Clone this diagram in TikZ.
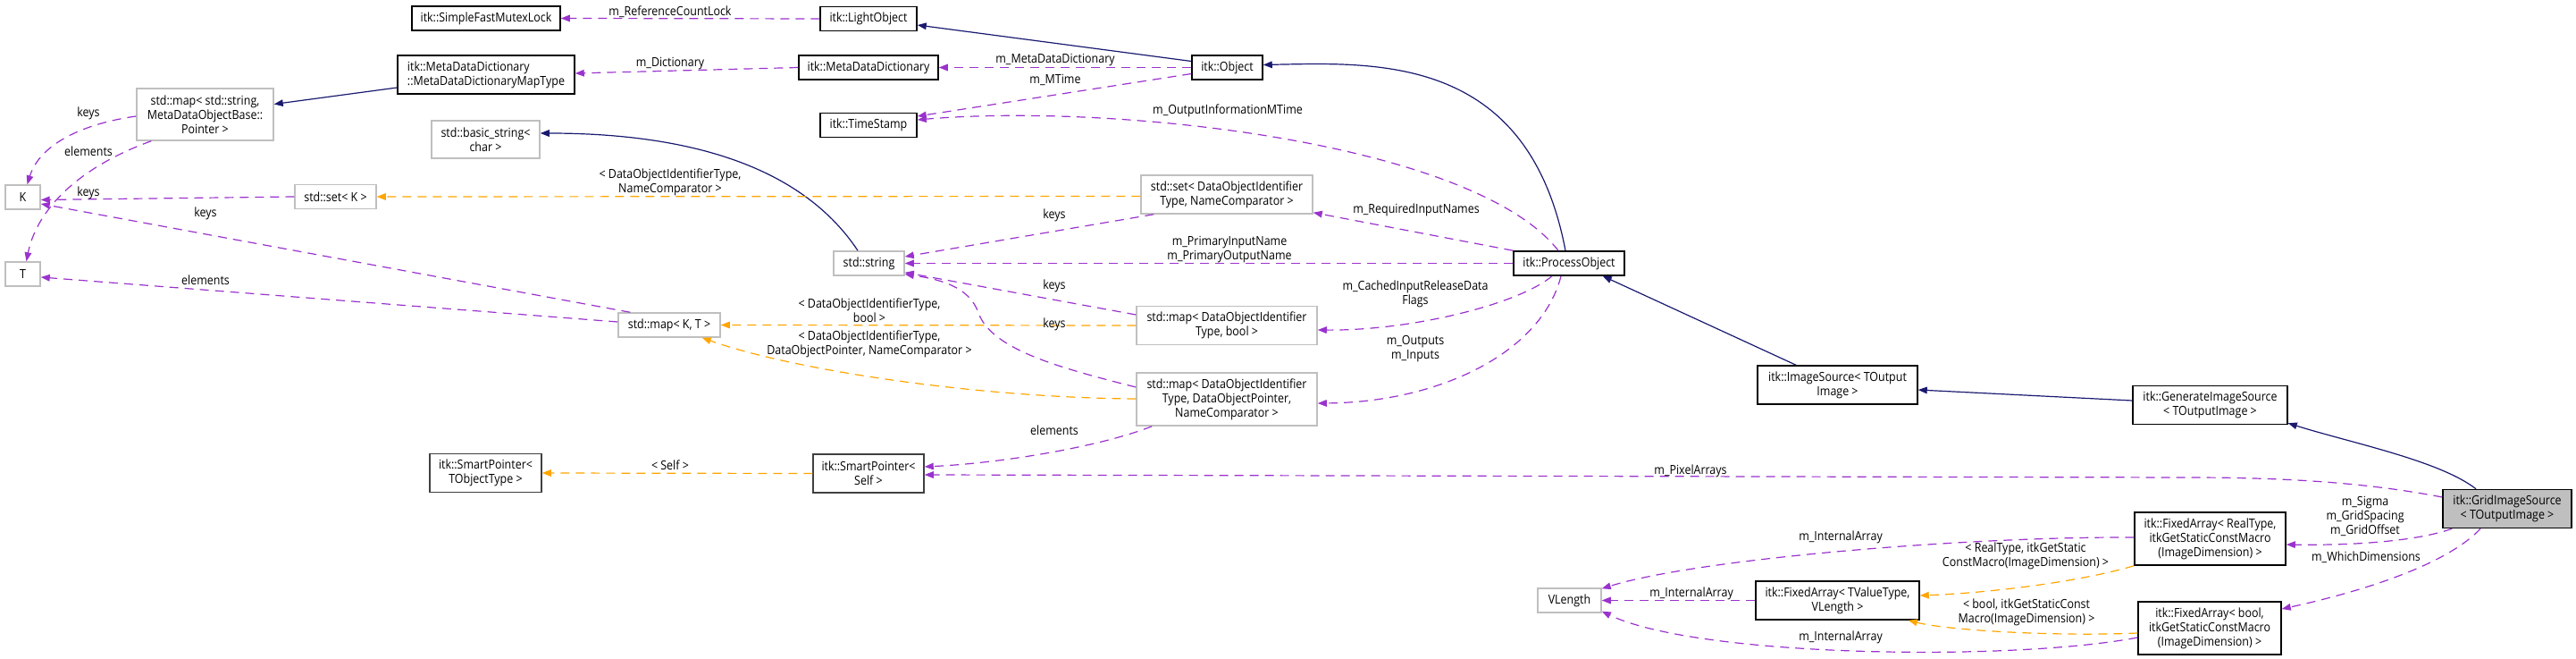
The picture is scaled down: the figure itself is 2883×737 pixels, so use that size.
\documentclass[tikz,border=0pt]{standalone}
\usepackage{fontspec}
\setmainfont[FakeStretch=0.89]{Open Sans}
\usetikzlibrary{arrows.meta,calc}
\definecolor{navy}{HTML}{191970}
\definecolor{usecol}{HTML}{9A32CD}
\definecolor{tplcol}{HTML}{FFA500}
\definecolor{extgray}{HTML}{BFBFBF}
\definecolor{darkbd}{HTML}{404040}
\definecolor{gridfill}{HTML}{BFBFBF}
\begin{document}
\begin{tikzpicture}[x=0.5pt,y=-0.5pt,
  every node/.style={font=\fontsize{7pt}{8pt}\selectfont},
  box/.style={draw=black, line width=0.75pt, fill=white, inner sep=0pt, align=center},
  ext/.style={box, draw=extgray},
  spb/.style={box, draw=darkbd},
  lbl/.style={inner sep=0pt, align=center},
  tip/.style={-{Triangle[length=5pt,width=3.8pt]}},
  inh/.style={tip, color=navy, line width=0.6pt},
  use/.style={tip, color=usecol, line width=0.6pt, dash pattern=on 5pt off 3.5pt},
  tpl/.style={tip, color=tplcol, line width=0.6pt, dash pattern=on 5pt off 3.5pt},
]
\useasboundingbox (0,0) rectangle (2883,737);
% nodes
\node[box, minimum width=83pt, minimum height=13.5pt] (mutex) at (544,20.5) {itk::SimpleFastMutexLock};
\node[box, minimum width=54pt, minimum height=13.5pt] (light) at (972,21) {itk::LightObject};
\node[box, minimum width=99pt, minimum height=21.5pt, align=left] (mapT) at (544,83.5) {itk::MetaDataDictionary\\::MetaDataDictionaryMapType};
\node[box, minimum width=78pt, minimum height=13.5pt] (mdd) at (972,75.5) {itk::MetaDataDictionary};
\node[box, minimum width=39.5pt, minimum height=13.5pt] (object) at (1373.5,75.5) {itk::Object};
\node[box, minimum width=54pt, minimum height=13.5pt] (ts) at (972,140) {itk::TimeStamp};
\node[ext, minimum width=76.5pt, minimum height=29pt] (mapstr) at (229.5,128) {std::map< std::string,\\MetaDataObjectBase::\\Pointer >};
\node[ext, minimum width=60.5pt, minimum height=21pt] (bstr) at (543.5,156) {std::basic\_string<\\char >};
\node[ext, minimum width=19.5pt, minimum height=13.5pt] (K) at (25.5,220.5) {K};
\node[ext, minimum width=45.5pt, minimum height=13.5pt] (setK) at (375.5,220) {std::set< K >};
\node[ext, minimum width=19.5pt, minimum height=13.5pt] (T) at (25.5,306.5) {T};
\node[ext, minimum width=96pt, minimum height=21.5pt] (setD) at (1373,217.5) {std::set< DataObjectIdentifier\\Type, NameComparator >};
\node[ext, minimum width=39.5pt, minimum height=13.5pt] (str) at (972.5,294.5) {std::string};
\node[box, minimum width=62pt, minimum height=13.5pt] (proc) at (1756,294.5) {itk::ProcessObject};
\node[ext, minimum width=57pt, minimum height=13.5pt] (mapKT) at (749,363.5) {std::map< K, T >};
\node[ext, minimum width=101pt, minimum height=21.5pt] (mapB) at (1373,364) {std::map< DataObjectIdentifier\\Type, bool >};
\node[ext, minimum width=101pt, minimum height=29.5pt] (mapP) at (1373,446.5) {std::map< DataObjectIdentifier\\Type, DataObjectPointer,\\NameComparator >};
\node[spb, minimum width=62pt, minimum height=21.5pt] (spSelf) at (972,529.5) {itk::SmartPointer<\\Self >};
\node[spb, minimum width=62.5pt, minimum height=21.5pt] (spT) at (543.5,529) {itk::SmartPointer<\\TObjectType >};
\node[box, minimum width=89.5pt, minimum height=21.5pt] (imgsrc) at (2056.5,430.5) {itk::ImageSource< TOutput\\Image >};
\node[box, minimum width=86.5pt, minimum height=21.5pt] (gen) at (2473.5,453) {itk::GenerateImageSource\\< TOutputImage >};
\node[box, fill=gridfill, minimum width=72pt, minimum height=21.5pt] (grid) at (2806,569) {itk::GridImageSource\\< TOutputImage >};
\node[box, minimum width=84.5pt, minimum height=29.5pt] (faReal) at (2473.5,602.5) {itk::FixedArray< RealType,\\itkGetStaticConstMacro\\(ImageDimension) >};
\node[box, minimum width=80pt, minimum height=29.5pt] (faBool) at (2473,702.5) {itk::FixedArray< bool,\\itkGetStaticConstMacro\\(ImageDimension) >};
\node[box, minimum width=91.5pt, minimum height=21.5pt] (faT) at (2056.5,671.5) {itk::FixedArray< TValueType,\\VLength >};
\node[ext, minimum width=35.5pt, minimum height=13.5pt] (VLength) at (1756.5,671.5) {VLength};
% inheritance
\draw[inh] ($(object.west)+(0,-7)$) -- ($(light.east)+(0,7)$);
\draw[inh] ($(mapT.west)+(0,14.5)$) -- ($(mapstr.east)+(0,-11.5)$);
\draw[inh] ($(proc.north)+(-4,0)$) .. controls (1710,60) and (1540,70) .. ($(object.east)+(0,-3)$);
\draw[inh] ($(str.north)+(-12.5,0)$) .. controls (900,190) and (780,149) .. ($(bstr.east)+(0,-7)$);
\draw[inh] ($(imgsrc.north)+(-46.5,0)$) -- ($(proc.south east)+(-25,0)$);
\draw[inh] ($(gen.west)+(0,-5)$) -- ($(imgsrc.east)+(0,5.5)$);
\draw[inh] ($(grid.north)+(-35,0)$) .. controls (2730,515) and (2630,495) .. ($(gen.south east)+(0,-2)$);
% usage
\draw[use] (light.west) -- (mutex.east);
\draw[use] (mdd.west) -- ($(mapT.east)+(0,-1.5)$);
\draw[use] (object.west) -- (mdd.east);
\draw[use] ($(object.west)+(0,7)$) -- ($(ts.east)+(0,-10)$);
\draw[use] ($(proc.north)+(-12,0)$) .. controls (1650,160) and (1250,115) .. ($(ts.east)+(0,-6)$);
\draw[use] (proc.north west) -- ($(setD.south east)+(0,-2)$);
\draw[use] (proc.west) -- (str.east);
\draw[use] ($(proc.south)+(-19,0)$) .. controls (1700,340) and (1580,370) .. ($(mapB.east)+(0,5)$);
\draw[use] ($(proc.south)+(-9,0)$) .. controls (1725,395) and (1610,450) .. ($(mapP.east)+(0,4.5)$);
\draw[use] ($(setD.south west)+(15,0)$) -- ($(str.east)+(0,-7.5)$);
\draw[use] ($(mapB.west)+(0,-12)$) -- ($(str.south east)+(0,-4)$);
\draw[use] ($(mapP.west)+(0,-13.5)$) .. controls (1180,410) and (1110,390) .. (1095,350) .. controls (1085,320) and (1050,312) .. ($(str.south east)+(0,-2)$);
\draw[use] ($(mapP.south west)+(18,0)$) .. controls (1230,500) and (1120,518) .. ($(spSelf.east)+(0,-7.5)$);
\draw[use] ($(grid.west)+(0,-13)$) .. controls (2650,540) and (2560,534) .. (2450,534) -- ($(spSelf.east)+(0,1.5)$);
\draw[use] ($(grid.south west)+(11,0)$) .. controls (2700,607) and (2620,610) .. ($(faReal.east)+(0,6.5)$);
\draw[use] ($(grid.south)+(-30,0)$) .. controls (2740,630) and (2650,660) .. ($(faBool.east)+(0,-21.5)$);
\draw[use] ($(faReal.west)+(0,-1.5)$) .. controls (2200,600) and (1900,625) .. ($(VLength.north east)+(0,1)$);
\draw[use] (faT.west) -- (VLength.east);
\draw[use] ($(faBool.west)+(0,10.5)$) .. controls (2250,740) and (1900,735) .. ($(VLength.south east)+(0,-2)$);
\draw[use] (setK.west) -- ($(K.east)+(0,3)$);
\draw[use] ($(mapstr.west)+(0,2)$) .. controls (95,138) and (45,160) .. ($(K.north)+(5,0)$);
\draw[use] ($(mapstr.south west)+(17,0)$) .. controls (80,190) and (40,240) .. ($(T.north)+(4,0)$);
\draw[use] ($(mapKT.north west)+(14,0)$) -- ($(K.east)+(0,7.5)$);
\draw[use] ($(mapKT.west)+(0,-3.5)$) -- ($(T.east)+(0,3.5)$);
% template instances
\draw[tpl] ($(setD.west)+(0,2)$) -- (setK.east);
\draw[tpl] (mapB.west) -- (mapKT.east);
\draw[tpl] ($(mapP.west)+(0,-0.5)$) .. controls (1100,445) and (890,415) .. ($(mapKT.south east)+(-21,0)$);
\draw[tpl] (spSelf.west) -- (spT.east);
\draw[tpl] (faReal.south west) .. controls (2330,650) and (2230,663) .. ($(faT.east)+(0,-5.5)$);
\draw[tpl] ($(faBool.west)+(0,5.5)$) .. controls (2300,712) and (2180,705) .. ($(faT.south east)+(-13,0)$);
% labels
\node[lbl] (l1) at (750,13) {m\_ReferenceCountLock};
\node[lbl] (l2) at (750,71) {m\_Dictionary};
\node[lbl] (l3) at (1181,67) {m\_MetaDataDictionary};
\node[lbl] (l4) at (1181,89) {m\_MTime};
\node[lbl] (l5) at (1374,124) {m\_OutputInformationMTime};
\node[lbl] (l6) at (1180,241) {keys};
\node[lbl] (l7) at (1585,235) {m\_RequiredInputNames};
\node[lbl] (l8) at (1376,279) {m\_PrimaryInputName\\m\_PrimaryOutputName};
\node[lbl] (l9) at (1180,320) {keys};
\node[lbl] (l10) at (1584,329) {m\_CachedInputReleaseData\\Flags};
\node[lbl] (l11) at (1180,363) {keys};
\node[lbl] (l12) at (973,347) {< DataObjectIdentifierType,\\bool >};
\node[lbl] (l13) at (973,385) {< DataObjectIdentifierType,\\DataObjectPointer, NameComparator >};
\node[lbl] (l14) at (1584,390) {m\_Outputs\\m\_Inputs};
\node[lbl] (l15) at (1180,481) {elements};
\node[lbl] (l16) at (750,520) {< Self >};
\node[lbl] (l17) at (1892,527) {m\_PixelArrays};
\node[lbl] (l18) at (2647,577) {m\_Sigma\\m\_GridSpacing\\m\_GridOffset};
\node[lbl] (l19) at (2648,623) {m\_WhichDimensions};
\node[lbl] (l20) at (2060,601) {m\_InternalArray};
\node[lbl] (l21) at (1893,664) {m\_InternalArray};
\node[lbl] (l22) at (2060,713) {m\_InternalArray};
\node[lbl] (l23) at (2267,622) {< RealType, itkGetStatic\\ConstMacro(ImageDimension) >};
\node[lbl] (l24) at (2268,685) {< bool, itkGetStaticConst\\Macro(ImageDimension) >};
\node[lbl] (l25) at (750,204) {< DataObjectIdentifierType,\\NameComparator >};
\node[lbl] (l26) at (99,216) {keys};
\node[lbl] (l27) at (99,127) {keys};
\node[lbl] (l28) at (99,169) {elements};
\node[lbl] (l29) at (230,239) {keys};
\node[lbl] (l30) at (230,313) {elements};
\end{tikzpicture}
\end{document}
